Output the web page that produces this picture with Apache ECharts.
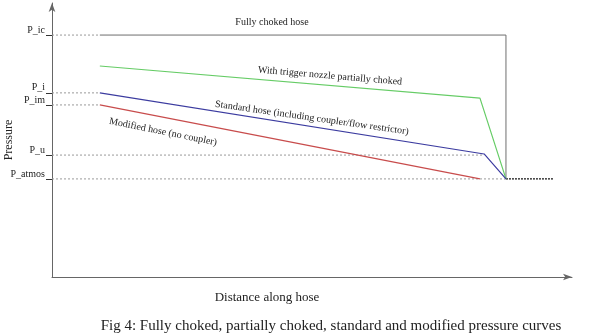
<!DOCTYPE html>
<html><head><meta charset="utf-8">
<script src="https://cdn.jsdelivr.net/npm/echarts@6/dist/echarts.min.js"></script>
<style>html,body{margin:0;padding:0;background:#fff}#c{width:602px;height:335px}</style>
</head><body><div id="c"></div>
<script>
// Pressure levels (arbitrary units)
var levelNames = ['P_atmos', 'P_u', 'P_im', 'P_i', 'P_ic'];
var levelValues = [35.8, 44.5, 62.8, 67.2, 88.3];
// Curves: [distance along hose, pressure] (arbitrary units)
var fullyChoked = [[9.2, 88.3], [87.3, 88.3], [87.3, 35.8]];
var partiallyChoked = [[9.2, 77.0], [82.3, 65.3], [87.3, 35.8]];
var standardHose = [[9.2, 67.2], [83.1, 44.9], [87.3, 35.8]];
var modifiedHose = [[9.2, 62.8], [82.3, 35.8]];
var atmosTail = [[87.3, 35.8], [96.5, 35.8]];
// Dotted reference lines: distance where each ends
var refEnds = [87.3, 83.1, 9.2, 9.2, 9.2];

var serif = '"Liberation Serif","DejaVu Serif",serif';
var chart = echarts.init(document.getElementById('c'));
var series = [];
levelValues.forEach(function (v, i) {
  series.push({
    type: 'line', data: [[0, v], [refEnds[i], v]], symbol: 'none', silent: true,
    lineStyle: { color: '#9a9a9a', width: 1, type: [2, 2] }
  });
});
series.push({ type: 'line', data: atmosTail, symbol: 'none',
  lineStyle: { color: '#111', width: 1.3, type: [2, 1] } });
series.push({ type: 'line', data: fullyChoked, symbol: 'none',
  lineStyle: { color: '#6e6e6e', width: 1 } });
series.push({ type: 'line', data: partiallyChoked, symbol: 'none',
  lineStyle: { color: '#66cc66', width: 1.2 } });
series.push({ type: 'line', data: standardHose, symbol: 'none',
  lineStyle: { color: '#3c3ca0', width: 1.2 } });
series.push({ type: 'line', data: modifiedHose, symbol: 'none',
  lineStyle: { color: '#c84c4c', width: 1.2 } });

chart.setOption({
  animation: false,
  grid: { left: 52, right: 30, top: 3, bottom: 58, outerBoundsMode: 'none' },
  xAxis: {
    type: 'value', min: 0, max: 100,
    axisLine: { lineStyle: { color: '#666', width: 1 }, symbol: ['none', 'arrow'], symbolSize: [5, 9] },
    axisTick: { show: false }, axisLabel: { show: false }, splitLine: { show: false }
  },
  yAxis: {
    type: 'value', min: 0, max: 100,
    name: 'Pressure', nameLocation: 'middle', nameGap: 37, nameMoveOverlap: false,
    nameTextStyle: { fontFamily: serif, fontSize: 12, color: '#222' },
    axisLine: { show: true, lineStyle: { color: '#666', width: 1 }, symbol: ['none', 'arrow'], symbolSize: [5, 9] },
    axisTick: { show: true, customValues: levelValues, length: 6, lineStyle: { color: '#333' } },
    axisLabel: {
      show: true, customValues: levelValues, margin: 7,
      fontFamily: serif, fontSize: 10, color: '#222', verticalAlign: 'bottom',
      formatter: function (val) {
        var i = levelValues.indexOf(val);
        return i >= 0 ? levelNames[i] : '';
      }
    },
    splitLine: { show: false }
  },
  series: series,
  graphic: [
    { type: 'text', x: 267, y: 298,
      style: { text: 'Distance along hose', font: '13px ' + serif, fill: '#222', align: 'center', verticalAlign: 'middle' } },
    { type: 'text', x: 331, y: 326,
      style: { text: 'Fig 4: Fully choked, partially choked, standard and modified pressure curves',
        font: '15px ' + serif, fill: '#222', align: 'center', verticalAlign: 'middle' } },
    { type: 'text', x: 272, y: 22,
      style: { text: 'Fully choked hose', font: '10px ' + serif, fill: '#222', align: 'center', verticalAlign: 'middle' } },
    { type: 'text', x: 330, y: 76, rotation: -0.085,
      style: { text: 'With trigger nozzle partially choked', font: '10px ' + serif, fill: '#222', align: 'center', verticalAlign: 'middle' } },
    { type: 'text', x: 312, y: 118, rotation: -0.142,
      style: { text: 'Standard hose (including coupler/flow restrictor)', font: '10px ' + serif, fill: '#222', align: 'center', verticalAlign: 'middle' } },
    { type: 'text', x: 163, y: 132, rotation: -0.197,
      style: { text: 'Modified hose (no coupler)', font: '10px ' + serif, fill: '#222', align: 'center', verticalAlign: 'middle' } }
  ]
});
</script></body></html>
